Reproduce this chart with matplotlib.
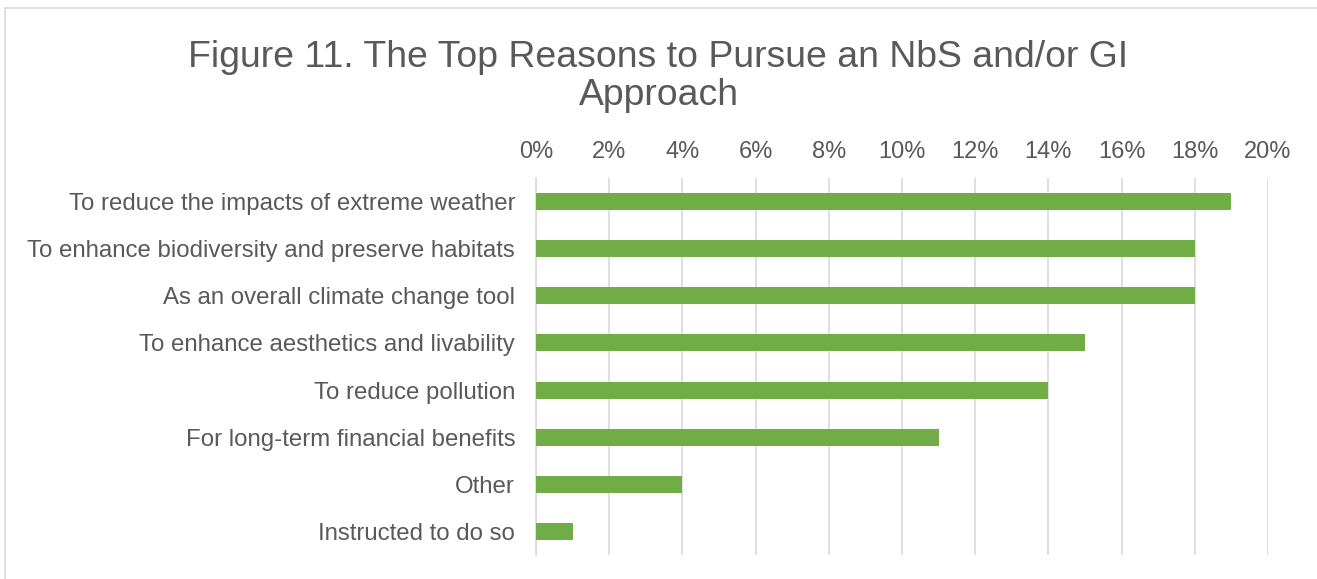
import matplotlib.pyplot as plt
from matplotlib.patches import Rectangle
from matplotlib.ticker import FuncFormatter

plt.rcParams["font.family"] = ["Liberation Sans", "DejaVu Sans"]

reasons = [
    "To reduce the impacts of extreme weather",
    "To enhance biodiversity and preserve habitats",
    "As an overall climate change tool",
    "To enhance aesthetics and livability",
    "To reduce pollution",
    "For long-term financial benefits",
    "Other",
    "Instructed to do so",
]
shares = [19, 18, 18, 15, 14, 11, 4, 1]

TEXT = "#595959"
GRID = "#D9D9D9"
GREEN = "#70AD47"

fig = plt.figure(figsize=(13.17, 5.79), dpi=100)
ax = fig.add_axes([536 / 1317, 1 - 555 / 579, (1268 - 536) / 1317, (555 - 178) / 579])

y = list(range(len(reasons)))
ax.barh(y, shares, height=0.36, color=GREEN, zorder=3)
ax.set_ylim(len(reasons) - 0.5, -0.5)
ax.set_xlim(0, 20)
ax.set_xticks(range(0, 21, 2))
ax.xaxis.set_major_formatter(FuncFormatter(lambda v, p: f"{v:.0f}%"))
ax.xaxis.tick_top()
ax.set_yticks(y)
ax.set_yticklabels(reasons)
ax.tick_params(axis="both", length=0, labelcolor=TEXT)
ax.tick_params(axis="x", pad=11, labelsize=17)
ax.tick_params(axis="y", pad=15, labelsize=17.3)
ax.grid(axis="x", color=GRID, linewidth=1.2, zorder=0)
for s in ["top", "right", "bottom"]:
    ax.spines[s].set_visible(False)
ax.spines["left"].set_color(GRID)
ax.spines["left"].set_linewidth(1.2)

fig.text(0.5, 1 - 40 / 579, "Figure 11. The Top Reasons to Pursue an NbS and/or GI\nApproach",
         ha="center", va="top", fontsize=26.9, color=TEXT, linespacing=1.12)

# chart frame
fig.patches.append(Rectangle((5 / 1317, -0.05), 1.2, 1 - 8 / 579 + 0.05,
                             transform=fig.transFigure, fill=False,
                             edgecolor=GRID, linewidth=1.2))

fig.savefig("out.png", dpi=100)
